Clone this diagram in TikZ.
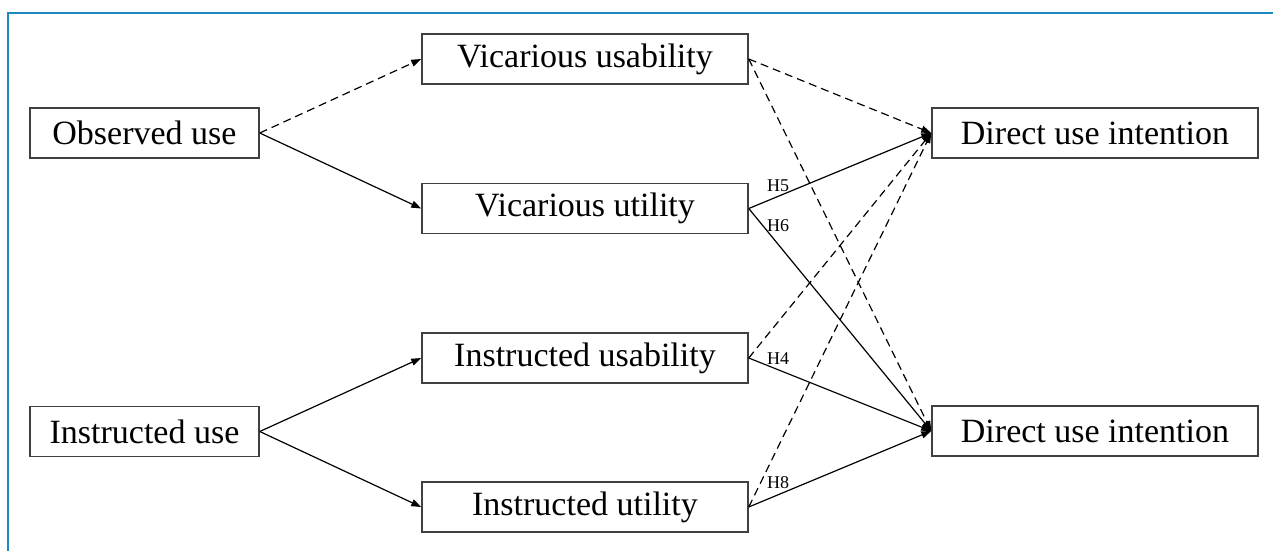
\documentclass[tikz,border=0pt]{standalone}
\usepackage{fontspec}
\setmainfont{Liberation Serif}
\usetikzlibrary{arrows.meta}
\definecolor{frameblue}{RGB}{27,137,196}
\begin{document}
\begin{tikzpicture}[x=0.5pt,y=-0.5pt,
  box/.style={draw=black!75, line width=0.75pt, minimum height=25pt, inner sep=0pt,
    font=\fontsize{17}{20}\selectfont},
  leftbox/.style={box, minimum width=114.5pt},
  widebox/.style={box, minimum width=163pt},
  conn/.style={line width=0.6pt, -{Triangle[length=5pt,width=3.5pt]}},
  dsh/.style={dash pattern=on 4pt off 2.5pt},
  hlabel/.style={font=\fontsize{9}{10}\selectfont, inner sep=0pt}]
\useasboundingbox (0,0) rectangle (1273,551);
\draw[line width=1.4pt, frameblue] (8,551) -- (8,13) -- (1273,13);

\node[leftbox] (ou) at (144.5,133) {Observed use};
\node[leftbox] (iu) at (144.5,431.5) {Instructed use};
\node[widebox] (vus) at (585,59) {Vicarious usability};
\node[widebox] (vut) at (585,208.5) {Vicarious utility};
\node[widebox] (ius) at (585,358) {Instructed usability};
\node[widebox] (iut) at (585,507) {Instructed utility};
\node[widebox] (d1) at (1095,133) {Direct use intention};
\node[widebox] (d2) at (1095,431) {Direct use intention};

\draw[conn,dsh] (ou.east) -- (vus.west);
\draw[conn] (ou.east) -- (vut.west);
\draw[conn] (iu.east) -- (ius.west);
\draw[conn] (iu.east) -- (iut.west);

\draw[conn,dsh] (vus.east) -- (d1.west);
\draw[conn,dsh] (vus.east) -- (d2.west);
\draw[conn] (vut.east) -- (d1.west);
\draw[conn] (vut.east) -- (d2.west);
\draw[conn,dsh] (ius.east) -- (d1.west);
\draw[conn] (ius.east) -- (d2.west);
\draw[conn,dsh] (iut.east) -- (d1.west);
\draw[conn] (iut.east) -- (d2.west);

\node[hlabel] (h5) at (778,186) {H5};
\node[hlabel] (h6) at (778,226) {H6};
\node[hlabel] (h4) at (778,359) {H4};
\node[hlabel] (h8) at (778,483) {H8};
\end{tikzpicture}
\end{document}
